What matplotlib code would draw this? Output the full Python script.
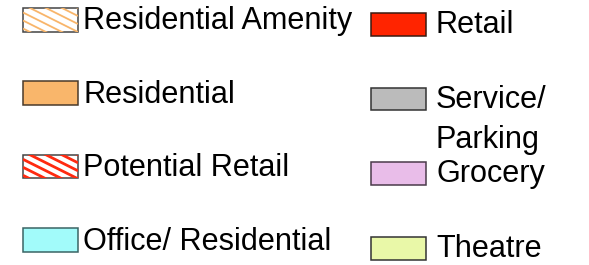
import matplotlib
matplotlib.use("Agg")
import matplotlib.pyplot as plt
import numpy as np
from matplotlib.patches import Rectangle

plt.rcParams['font.family'] = ['Liberation Sans', 'DejaVu Sans']

# Legend entries (left column, then right column)
left_labels = ["Residential Amenity", "Residential", "Potential Retail", "Office/ Residential"]
left_faces = ["white", "#F9B66B", "white", "#A2FBFA"]
left_hatched = [True, False, True, False]
left_hatch_colors = ["#F8B56A", None, "#FF2A10", None]
left_hatch_widths = [1.3, None, 2.0, None]
left_edges = ["#444444", "#4a3a2a", "#444444", "#3a6464"]

right_labels = ["Retail", "Service/\nParking", "Grocery", "Theatre"]
right_faces = ["#FF2400", "#BBBBBB", "#E9BDE9", "#E9F8A8"]
right_edges = ["#3a1a10", "#333333", "#4a3a4a", "#333333"]

W, H = 589, 265
fig = plt.figure(figsize=(W / 100, H / 100), dpi=100)
ax = fig.add_axes([0, 0, 1, 1])
ax.set_xlim(0, W)
ax.set_ylim(H, 0)
ax.axis('off')

FS = 22.1
LINE = 40
SLOPE = 0.5      # stripe slope (down-right)
VSTEP = 8.0      # vertical spacing of stripes


def entry(x_box, top, w, h, face, edge, text_x, base, label,
          hatched=False, hcolor=None, hlw=1.0):
    rect = Rectangle((x_box, top), w, h, facecolor=face, edgecolor='none', linewidth=0)
    ax.add_patch(rect)
    if hatched:
        xs = np.array([x_box, x_box + w])
        for c in np.arange(-w * SLOPE - VSTEP, h + VSTEP, VSTEP):
            ys = top + c + (xs - x_box) * SLOPE
            ln, = ax.plot(xs, ys, color=hcolor, lw=hlw, solid_capstyle='butt')
            ln.set_clip_path(rect)
    ax.add_patch(Rectangle((x_box, top), w, h, facecolor='none', edgecolor=edge,
                           linewidth=1.1))
    for k, line in enumerate(label.split("\n")):
        ax.text(text_x, base + k * LINE, line, fontsize=FS, va='baseline', ha='left',
                color='black')


for i, lab in enumerate(left_labels):
    top = 8 + i * 73.4
    entry(23, top, 55, 23.5, left_faces[i], left_edges[i], 83, top + 21.5, lab,
          left_hatched[i], left_hatch_colors[i], left_hatch_widths[i] or 1.0)

for i, lab in enumerate(right_labels):
    top = 13 + i * 74.7
    entry(371, top, 55, 22.5, right_faces[i], right_edges[i], 436, top + 20, lab)

fig.savefig("out.png", dpi=100, facecolor='white')
